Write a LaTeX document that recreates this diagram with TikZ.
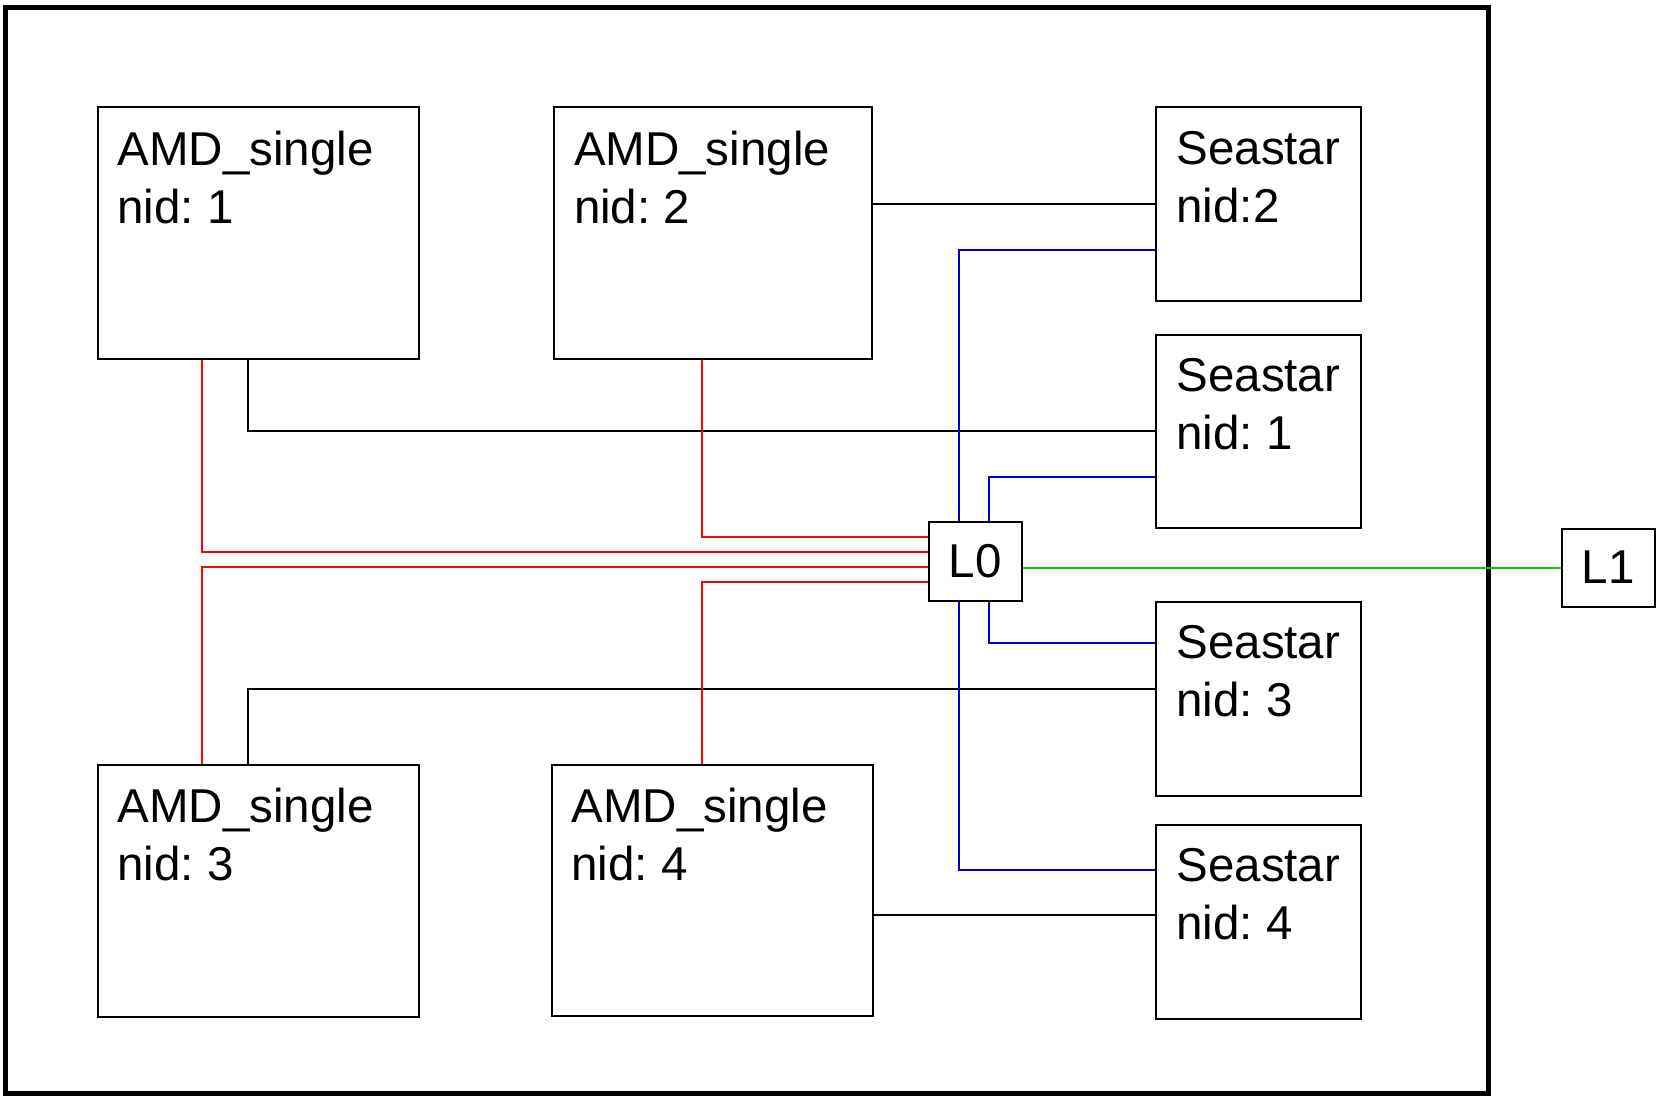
\documentclass[tikz,border=0pt]{standalone}
\usepackage{fontspec}
\setmainfont{Liberation Sans}
\frenchspacing
\definecolor{cred}{HTML}{FF0000}
\definecolor{cblue}{HTML}{0000CC}
\definecolor{cgreen}{HTML}{00CC00}
\tikzset{
  every picture/.style={line width=2pt},
  unit/.style={draw, line width=2pt, inner sep=0pt, minimum width=#1},
  unit/.default=321pt,
  tag/.style={anchor=north west, align=left, inner xsep=20pt, inner ysep=24pt, font=\fontsize{47.5}{58}\selectfont},
  router/.style={draw, line width=2pt, minimum width=93pt, minimum height=79pt, inner sep=0pt, font=\fontsize{47.5}{58}\selectfont},
  wire/.style={draw=black, line width=2pt},
  link/.style={draw=cred, line width=2pt},
  bus/.style={draw=cblue, line width=2pt},
  uplink/.style={draw=cgreen, line width=2pt},
}
\begin{document}
\begin{tikzpicture}[x=1pt, y=-1pt]
  \useasboundingbox (0,0) rectangle (1660,1097);
  % cabinet outline
  \draw[line width=5pt] (5.5,8) rectangle (1488,1093);
  % compute nodes
  \node[unit, minimum height=251pt, label={[tag]north west:{AMD\_single\\nid: 1}}] (amd1) at (258,233) {};
  \node[unit=318pt, minimum height=251pt, label={[tag]north west:{AMD\_single\\nid: 2}}] (amd2) at (713,233) {};
  \node[unit, minimum height=252pt, label={[tag]north west:{AMD\_single\\nid: 3}}] (amd3) at (258,890.5) {};
  \node[unit, minimum height=251pt, label={[tag]north west:{AMD\_single\\nid: 4}}] (amd4) at (712,890) {};
  % seastar routers
  \node[unit=205pt, minimum height=193pt, label={[tag, inner xsep=21pt]north west:{Seastar\\nid:2}}] (ss2) at (1258,204) {};
  \node[unit=205pt, minimum height=193pt, label={[tag, inner xsep=21pt]north west:{Seastar\\nid: 1}}] (ss1) at (1258,431) {};
  \node[unit=205pt, minimum height=194pt, label={[tag, inner xsep=21pt]north west:{Seastar\\nid: 3}}] (ss3) at (1258,698.5) {};
  \node[unit=205pt, minimum height=194pt, label={[tag, inner xsep=21pt]north west:{Seastar\\nid: 4}}] (ss4) at (1258,921.5) {};
  % switches
  \node[router] (l0) at (975,561) {L0};
  \node[router, minimum height=78pt] (l1) at (1608,567.5) {L1};
  % node to seastar
  \draw[wire] (ss2.west) -- (ss2.west -| amd2.east);
  \draw[wire] ([xshift=-10pt]amd1.south) |- (ss1.west);
  \draw[wire] ([xshift=-10pt]amd3.north) |- ([yshift=10pt]ss3.west);
  \draw[wire] ([yshift=6.5pt]ss4.west) -- ([yshift=6.5pt]ss4.west -| amd4.east);
  % seastar to L0
  \draw[bus] ([yshift=-46pt]ss2.west) -| ([xshift=-16pt]l0.north);
  \draw[bus] ([yshift=-46pt]ss1.west) -| ([xshift=14pt]l0.north);
  \draw[bus] ([yshift=55.5pt]ss3.west) -| ([xshift=14pt]l0.south);
  \draw[bus] ([yshift=51.5pt]ss4.west) -| ([xshift=-16pt]l0.south);
  % node to L0
  \draw[link] ([xshift=-11pt]amd2.south) |- ([yshift=24pt]l0.west);
  \draw[link] ([xshift=-56pt]amd1.south) |- ([yshift=9pt]l0.west);
  \draw[link] ([xshift=-56pt]amd3.north) |- ([yshift=-6pt]l0.west);
  \draw[link] ([xshift=-10pt]amd4.north) |- ([yshift=-21pt]l0.west);
  % L0 to L1
  \draw[uplink] (l1.west) -- (l1.west -| l0.east);
\end{tikzpicture}
\end{document}
